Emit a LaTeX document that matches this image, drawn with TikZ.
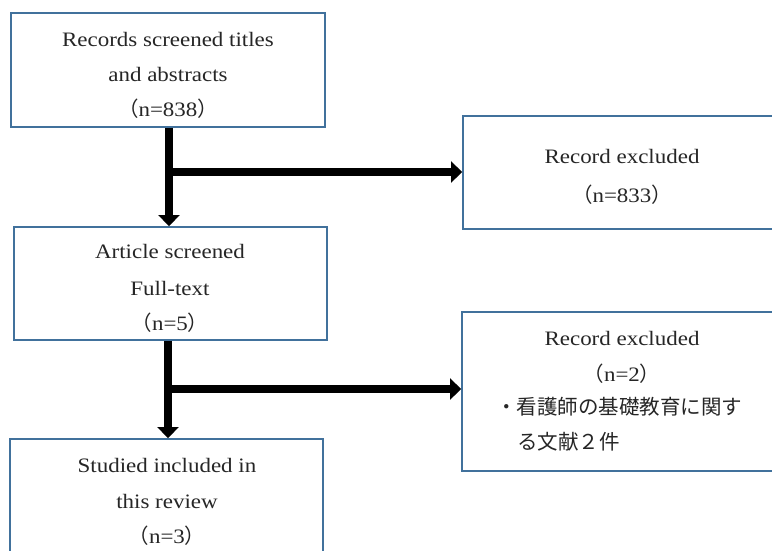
\documentclass[tikz,border=0pt]{standalone}
\usepackage{fontspec}
\setmainfont{Liberation Serif}[FakeStretch=1.12]
\newfontfamily\cjk{Noto Sans CJK JP}
\usetikzlibrary{arrows.meta}
\definecolor{boxblue}{HTML}{41719C}
\definecolor{ink}{HTML}{262626}
\newcommand{\lpar}{{\cjk （}}
\newcommand{\rpar}{{\cjk ）}}
\begin{document}
\begin{tikzpicture}[x=1pt,y=-1pt,
  box/.style={draw=boxblue, line width=1.8pt, inner sep=0pt, fill=white},
  ln/.style={anchor=base, inner sep=0pt, text=ink, font=\fontsize{20.5}{24}\selectfont},
  jln/.style={anchor=base west, inner sep=0pt, text=ink, font=\cjk\fontsize{20.5}{24}\selectfont},
  flow/.style={line width=8pt, draw=black, -{Triangle[width=21pt,length=11pt]}},
  bar/.style={line width=8pt, draw=black}
  ]
\useasboundingbox (0,0) rectangle (772,550);

% boxes
\node[box, minimum width=314pt, minimum height=114pt] (b1) at (168,70) {};
\node[box, minimum width=313pt, minimum height=113pt] (b2) at (619.5,172.5) {};
\node[box, minimum width=313pt, minimum height=113pt] (b3) at (170.5,283.5) {};
\node[box, minimum width=314pt, minimum height=159pt] (b4) at (619,391.5) {};
\node[box, minimum width=313pt, minimum height=116pt] (b5) at (166.5,497) {};

% texts
\node[ln] (t1a) at (168,46) {Records screened titles};
\node[ln] (t1b) at (168,81) {and abstracts};
\node[ln] (t1c) at (168,116) {\lpar n=838\rpar};

\node[ln] (t2a) at (622,163) {Record excluded};
\node[ln] (t2b) at (622,202) {\lpar n=833\rpar};

\node[ln] (t3a) at (170,258) {Article screened};
\node[ln] (t3b) at (170,295) {Full-text};
\node[ln] (t3c) at (170,330) {\lpar n=5\rpar};

\node[ln] (t4a) at (622,345) {Record excluded};
\node[ln] (t4b) at (622,381) {\lpar n=2\rpar};
\node[jln] (t4c) at (496,414) {・看護師の基礎教育に関す};
\node[jln] (t4d) at (517,449) {る文献２件};

\node[ln] (t5a) at (167,472) {Studied included in};
\node[ln] (t5b) at (167,508) {this review};
\node[ln] (t5c) at (167,543) {\lpar n=3\rpar};

% connectors
\coordinate (j1) at (169,172);
\coordinate (j2) at (168,389);
\draw[flow] (b1.south -| j1) -- (b3.north -| j1);
\draw[flow] (j1) -- (j1 -| b2.west);
\draw[flow] (b3.south -| j2) -- (b5.north -| j2);
\draw[flow] (j2) -- (j2 -| b4.west);
\end{tikzpicture}
\end{document}
